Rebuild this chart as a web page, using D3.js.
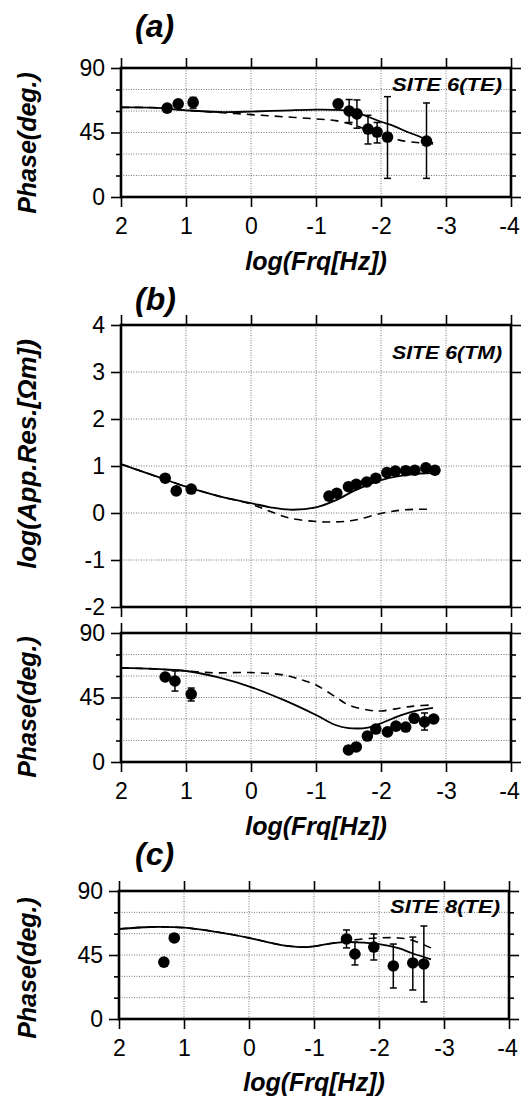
<!DOCTYPE html>
<html lang="en">
<head>
<meta charset="UTF-8"/>
<title>MT phase and apparent resistivity</title>
<script src="https://cdn.jsdelivr.net/npm/d3@7"></script>
<style>
  body { margin: 0; background: #fff; }
  text { font-family: "Liberation Sans", Arial, sans-serif; fill: #000; }
</style>
</head>
<body>
<script>
// x ticks shared by every panel (log frequency)
var freqTicks = [2, 1, 0, -1, -2, -3, -4];
var phaseTicks = [0, 15, 30, 45, 60, 75, 90];
var phaseLabels = [0, 45, 90];
var resTicks = [-2, -1, 0, 1, 2, 3, 4];

// (a) SITE 6 (TE) phase
var freqA = [1.29, 1.12, 0.89, -1.34, -1.51, -1.63, -1.80, -1.94, -2.10, -2.70];
var phaseA = [62, 65, 66, 65, 60, 58, 47.4, 45.3, 41.8, 39];
var errLoA = [null, null, 62, null, 52, 48, 37, 37.7, 13, 13];
var errHiA = [null, null, 69.5, null, 68, 67.7, 57, 52, 70, 65.6];
var modelFreqA = [2, 1.5, 1, 0.5, 0, -0.5, -1, -1.4, -1.6, -1.8, -2, -2.2, -2.4, -2.6, -2.8];
var modelA = [62.5, 62.3, 60.5, 59.3, 59.6, 60.3, 61, 60.6, 59, 56, 52.5, 49.5, 45.5, 42, 37.5];
var dashFreqA = [2, 1.5, 1, 0.5, 0, -0.5, -1, -1.3, -1.6, -1.8, -2, -2.3, -2.6, -2.8];
var dashA = [62.5, 62.3, 60.5, 59, 57.5, 56, 54.5, 53.3, 50, 46.5, 43, 39.5, 37.8, 37];

// (b) SITE 6 (TM) apparent resistivity
var freqBR = [1.32, 1.15, 0.92, -1.20, -1.32, -1.50, -1.62, -1.78, -1.92, -2.09, -2.22, -2.38, -2.52, -2.69, -2.83];
var resB = [0.74, 0.47, 0.51, 0.36, 0.42, 0.56, 0.61, 0.66, 0.74, 0.86, 0.89, 0.90, 0.91, 0.96, 0.91];
var modelFreqBR = [2, 1.5, 1, 0.5, 0, -0.3, -0.6, -1, -1.3, -1.6, -2, -2.3, -2.6, -2.8];
var modelBR = [1.04, 0.80, 0.56, 0.36, 0.21, 0.12, 0.07, 0.12, 0.27, 0.48, 0.70, 0.79, 0.84, 0.85];
var dashBR = [1.04, 0.80, 0.56, 0.36, 0.19, 0.03, -0.11, -0.18, -0.19, -0.15, -0.01, 0.06, 0.08, 0.08];

// (b) SITE 6 (TM) phase
var freqBP = [1.32, 1.17, 0.92, -1.50, -1.62, -1.79, -1.92, -2.10, -2.23, -2.38, -2.51, -2.67, -2.81];
var phaseB = [59.3, 56.5, 47.4, 8.4, 10.5, 18.1, 23, 21, 25, 24.4, 30.5, 28, 30];
var errLoB = [null, 49.5, 42.6, null, null, null, null, null, null, null, null, 22.3, null];
var errHiB = [null, 63.5, 51.6, null, null, null, null, null, null, null, null, 34.2, null];
var modelFreqBP = [2, 1.5, 1, 0.5, 0, -0.5, -1, -1.3, -1.5, -1.8, -2, -2.3, -2.5, -2.8];
var modelBP = [65.6, 65, 63.5, 59, 52.3, 43.3, 32.8, 25.8, 23.7, 24, 27, 32.5, 35.3, 37.7];
var dashFreqBP = [2, 1.5, 1, 0.7, 0.5, 0, -0.5, -0.8, -1, -1.3, -1.5, -1.8, -2, -2.3, -2.5, -2.8];
var dashBP = [65.6, 65, 63.5, 62.5, 62.2, 62.4, 60.7, 57, 53.7, 45.4, 39.8, 36.3, 35.6, 37.7, 39, 39.8];

// (c) SITE 8 (TE) phase
var freqC = [1.31, 1.15, -1.50, -1.63, -1.92, -2.22, -2.52, -2.69];
var phaseC = [40, 57, 56.3, 45.7, 50.6, 37.3, 39.4, 38.7];
var errLoC = [null, null, 50, 38, 41.5, 21.8, 20.4, 12];
var errHiC = [null, null, 62.6, 54, 59.8, 52.7, 57.6, 65.4];
var modelFreqC = [2, 1.5, 1, 0.5, 0, -0.5, -0.9, -1.3, -1.5, -2, -2.3, -2.5, -2.8];
var modelC = [63.3, 64.7, 64.2, 61.2, 57, 52, 50.6, 53.4, 54, 52.7, 49.9, 46.4, 42];
var dashFreqC = [2, 1.5, 1, 0.5, 0, -0.5, -0.9, -1.3, -1.5, -1.6, -2, -2.3, -2.5, -2.8];
var dashC = [63.3, 64.7, 64.2, 61.2, 57, 52, 50.6, 53.4, 54.5, 55.5, 57, 57, 55.5, 50];

var W = 522, H = 1097;
var svg = d3.select("body").append("svg")
  .attr("width", W)
  .attr("height", H);

function zip(xs, ys) {
  return xs.map(function(d, i) { return [d, ys[i]]; });
}

function panel(o) {
  var x = d3.scaleLinear().domain([2, -4]).range([o.left, o.left + 390]);
  var y = d3.scaleLinear().domain(o.yDomain).range([o.bottom, o.top]);
  var g = svg.append("g");

  // dotted grid
  g.selectAll(".gx").data(freqTicks.slice(1, -1)).enter().append("line")
    .attr("x1", function(d) { return x(d); }).attr("x2", function(d) { return x(d); })
    .attr("y1", o.top).attr("y2", o.bottom)
    .attr("stroke", "#777").attr("stroke-width", 1).attr("stroke-dasharray", "1,1.5");
  g.selectAll(".gy").data(o.yTicks.slice(1, -1)).enter().append("line")
    .attr("x1", x(2)).attr("x2", x(-4))
    .attr("y1", function(d) { return y(d); }).attr("y2", function(d) { return y(d); })
    .attr("stroke", "#777").attr("stroke-width", 1).attr("stroke-dasharray", "1,1.5");

  // axes: outward ticks on all four sides
  function major(d) { return o.yLabels.indexOf(d) >= 0; }
  var bottomAx = d3.axisBottom(x).tickValues(freqTicks).tickSize(10).tickPadding(6)
    .tickFormat(o.xLabels ? function(d) { return String(d); } : "");
  var topAx = d3.axisTop(x).tickValues(freqTicks).tickSize(10).tickFormat("");
  var leftAx = d3.axisLeft(y).tickValues(o.yTicks).tickSize(10).tickPadding(6)
    .tickFormat(function(d) { return major(d) ? String(d) : ""; });
  var rightAx = d3.axisRight(y).tickValues(o.yTicks).tickSize(10).tickFormat("");

  var axes = [
    g.append("g").attr("transform", "translate(0," + o.bottom + ")").call(bottomAx),
    g.append("g").attr("transform", "translate(0," + o.top + ")").call(topAx),
    g.append("g").attr("transform", "translate(" + x(2) + ",0)").call(leftAx),
    g.append("g").attr("transform", "translate(" + x(-4) + ",0)").call(rightAx)
  ];
  axes.forEach(function(a) {
    a.select(".domain").remove();
    a.selectAll(".tick line").attr("stroke", "#000").attr("stroke-width", 1.6);
    a.selectAll("text").attr("font-size", 23).attr("fill", "#000")
      .attr("font-family", "'Liberation Sans', Arial, sans-serif");
  });
  // minor ticks are half length
  [axes[2], axes[3]].forEach(function(a, k) {
    a.selectAll(".tick line").filter(function(d) { return !major(d); })
      .attr("x2", k === 0 ? -5 : 5);
  });
  axes[0].selectAll("text").attr("dy", "0.9em");
  // keep the last label inside the page
  axes[0].selectAll("text").filter(function(d) { return d === -4; }).attr("dx", -2);

  g.append("rect")
    .attr("x", x(2)).attr("y", o.top)
    .attr("width", x(-4) - x(2)).attr("height", o.bottom - o.top)
    .attr("fill", "none").attr("stroke", "#000").attr("stroke-width", 2.6);

  var line = d3.line()
    .x(function(d) { return x(d[0]); })
    .y(function(d) { return y(d[1]); })
    .curve(d3.curveCatmullRom);

  g.append("path").datum(zip(o.dashFreq, o.dash))
    .attr("d", line).attr("fill", "none").attr("stroke", "#000")
    .attr("stroke-width", 1.6).attr("stroke-dasharray", "8,6");
  g.append("path").datum(zip(o.modelFreq, o.model))
    .attr("d", line).attr("fill", "none").attr("stroke", "#000")
    .attr("stroke-width", 1.8);

  // error bars
  var pts = o.freq.map(function(d, i) {
    return { f: d, v: o.vals[i], lo: o.lo ? o.lo[i] : null, hi: o.hi ? o.hi[i] : null };
  });
  var eb = g.selectAll(".eb").data(pts.filter(function(d) { return d.lo !== null; }))
    .enter().append("g").attr("stroke", "#000").attr("stroke-width", 1.5);
  eb.append("line")
    .attr("x1", function(d) { return x(d.f); }).attr("x2", function(d) { return x(d.f); })
    .attr("y1", function(d) { return y(d.lo); }).attr("y2", function(d) { return y(d.hi); });
  ["lo", "hi"].forEach(function(k) {
    eb.append("line")
      .attr("x1", function(d) { return x(d.f) - 3.5; }).attr("x2", function(d) { return x(d.f) + 3.5; })
      .attr("y1", function(d) { return y(d[k]); }).attr("y2", function(d) { return y(d[k]); });
  });

  g.selectAll(".pt").data(pts).enter().append("circle")
    .attr("cx", function(d) { return x(d.f); })
    .attr("cy", function(d) { return y(d.v); })
    .attr("r", 5.8).attr("fill", "#000");

  if (o.site) {
    g.append("text").attr("x", x(-4) - 9).attr("y", o.siteY)
      .attr("text-anchor", "end")
      .attr("font-size", 19).attr("font-weight", "bold").attr("font-style", "italic")
      .attr("textLength", 110).attr("lengthAdjust", "spacingAndGlyphs")
      .text(o.site);
  }

  g.append("text")
    .attr("transform", "translate(36," + o.yTitleY + ") rotate(-90)")
    .attr("text-anchor", "middle")
    .attr("font-size", o.yTitleSize || 25).attr("font-weight", "bold").attr("font-style", "italic")
    .text(o.yTitle);

  if (o.xLabels) {
    g.append("text")
      .attr("x", (x(2) + x(-4)) / 2).attr("y", o.xTitleY)
      .attr("text-anchor", "middle")
      .attr("font-size", 25).attr("font-weight", "bold").attr("font-style", "italic")
      .text("log(Frq[Hz])");
  }
  if (o.tag) {
    g.append("text").attr("x", 135).attr("y", o.tagY)
      .attr("font-size", 32).attr("font-weight", "bold").attr("font-style", "italic")
      .text(o.tag);
  }
}

panel({
  left: 121, top: 68, bottom: 197, yDomain: [0, 90],
  yTicks: phaseTicks, yLabels: phaseLabels, xLabels: true,
  freq: freqA, vals: phaseA, lo: errLoA, hi: errHiA,
  modelFreq: modelFreqA, model: modelA, dashFreq: dashFreqA, dash: dashA,
  site: "SITE 6(TE)", siteY: 91, yTitle: "Phase(deg.)", yTitleY: 143,
  xTitleY: 270, tag: "(a)", tagY: 37
});

panel({
  left: 121, top: 325, bottom: 607, yDomain: [-2, 4],
  yTicks: resTicks, yLabels: resTicks, xLabels: false,
  freq: freqBR, vals: resB,
  modelFreq: modelFreqBR, model: modelBR, dashFreq: modelFreqBR, dash: dashBR,
  site: "SITE 6(TM)", siteY: 359, yTitle: "log(App.Res.[\u03A9m])", yTitleY: 454,
  yTitleSize: 26, tag: "(b)", tagY: 310
});

panel({
  left: 121, top: 633, bottom: 762, yDomain: [0, 90],
  yTicks: phaseTicks, yLabels: phaseLabels, xLabels: true,
  freq: freqBP, vals: phaseB, lo: errLoB, hi: errHiB,
  modelFreq: modelFreqBP, model: modelBP, dashFreq: dashFreqBP, dash: dashBP,
  yTitle: "Phase(deg.)", yTitleY: 707, xTitleY: 835
});

panel({
  left: 119, top: 891, bottom: 1019, yDomain: [0, 90],
  yTicks: phaseTicks, yLabels: phaseLabels, xLabels: true,
  freq: freqC, vals: phaseC, lo: errLoC, hi: errHiC,
  modelFreq: modelFreqC, model: modelC, dashFreq: dashFreqC, dash: dashC,
  site: "SITE 8(TE)", siteY: 913, yTitle: "Phase(deg.)", yTitleY: 968,
  xTitleY: 1091, tag: "(c)", tagY: 865
});
</script>
</body>
</html>
